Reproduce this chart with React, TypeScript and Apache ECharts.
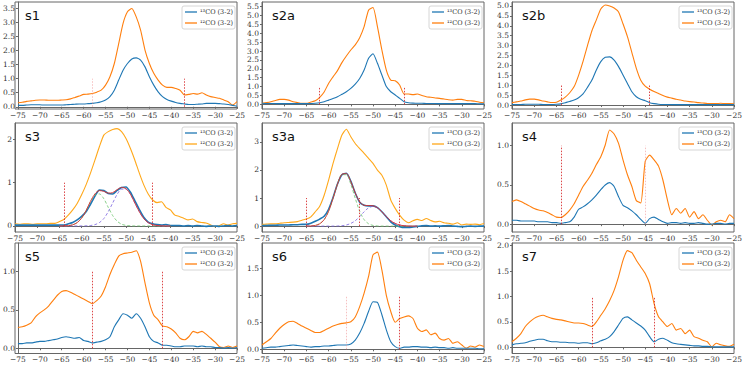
import React, { useEffect, useRef } from "react";
import * as echarts from "echarts";

// Velocity channels (km/s)
const VELOCITY = [-75,-74,-73,-72,-71,-70,-69,-68,-67,-66,-65,-64,-63,-62,-61,-60,-59,-58,-57,-56,-55,-54,-53,-52,-51,-50,-49,-48,-47,-46,-45,-44,-43,-42,-41,-40,-39,-38,-37,-36,-35,-34,-33,-32,-31,-30,-29,-28,-27,-26,-25];
const X_TICKS = [-75,-70,-65,-60,-55,-50,-45,-40,-35,-30,-25];

const S1_13CO = [0.05,0.05,0.06,0.07,0.07,0.07,0.06,0.06,0.06,0.06,0.06,0.07,0.08,0.09,0.1,0.1,0.11,0.12,0.14,0.18,0.24,0.36,0.59,0.95,1.3,1.54,1.7,1.74,1.66,1.42,1.07,0.77,0.53,0.36,0.26,0.2,0.15,0.12,0.1,0.08,0.08,0.09,0.1,0.12,0.12,0.12,0.11,0.1,0.08,0.05,0.02];
const S1_12CO = [0.14,0.16,0.19,0.21,0.23,0.24,0.24,0.23,0.23,0.23,0.24,0.25,0.28,0.33,0.38,0.44,0.45,0.47,0.52,0.59,0.77,1.07,1.54,2.25,2.97,3.38,3.5,3.2,2.73,2.02,1.54,1.19,0.95,0.77,0.69,0.69,0.65,0.59,0.42,0.44,0.47,0.45,0.5,0.42,0.36,0.33,0.3,0.24,0.18,0.06,0.18];

const S2A_13CO = [0.06,0.05,0.05,0.05,0.04,0.04,0.04,0.04,0.04,0.04,0.04,0.05,0.06,0.09,0.15,0.24,0.33,0.43,0.57,0.71,0.9,1.14,1.46,1.93,2.59,2.85,2.31,1.65,1.0,0.71,0.53,0.34,0.15,0.09,0.07,0.06,0.06,0.05,0.05,0.05,0.04,0.05,0.04,0.04,0.04,0.04,0.04,0.04,0.04,0.03,0.03];
const S2A_12CO = [0.06,0.1,0.15,0.22,0.28,0.28,0.24,0.15,0.1,0.06,0.06,0.13,0.2,0.4,0.7,1.18,1.55,1.9,2.35,2.72,3.06,3.35,3.75,4.37,5.3,5.45,4.37,3.06,1.93,1.37,1.33,1.09,0.58,0.58,0.55,0.58,0.5,0.43,0.4,0.36,0.34,0.3,0.26,0.24,0.28,0.28,0.22,0.2,0.18,0.12,0.09];

const S2B_13CO = [0.03,0.03,0.03,0.04,0.04,0.04,0.04,0.03,0.03,0.03,0.04,0.06,0.12,0.18,0.25,0.37,0.56,0.89,1.26,1.77,2.19,2.41,2.43,2.27,1.94,1.52,1.09,0.67,0.42,0.29,0.22,0.12,0.07,0.04,0.03,0.03,0.02,0.02,0.02,0.02,0.02,0.02,0.02,0.02,0.02,0.02,0.02,0.02,0.02,0.02,0.02];
const S2B_12CO = [0.12,0.16,0.2,0.26,0.3,0.3,0.26,0.2,0.16,0.13,0.14,0.25,0.4,0.62,0.93,1.5,2.2,3.0,3.75,4.3,4.85,5.05,5.0,4.9,4.7,4.1,3.45,2.65,1.85,1.25,0.95,0.8,0.68,0.58,0.48,0.4,0.35,0.29,0.25,0.2,0.17,0.15,0.12,0.1,0.08,0.07,0.07,0.09,0.07,0.08,0.06];

const S3_13CO = [0.02,0.02,0.02,0.02,0.02,0.02,0.02,0.02,0.02,0.02,0.02,0.02,0.05,0.08,0.14,0.22,0.33,0.5,0.69,0.83,0.82,0.75,0.74,0.82,0.89,0.9,0.78,0.58,0.38,0.2,0.09,0.05,0.03,0.02,0.03,0.01,0.01,0.01,0.0,0.01,0.0,0.01,0.0,-0.01,0.0,0.0,-0.01,0.0,0.01,0.0,0.01];
const S3_12CO = [0.05,0.04,0.05,0.05,0.04,0.05,0.05,0.05,0.06,0.06,0.1,0.15,0.25,0.37,0.52,0.72,0.95,1.22,1.52,1.83,2.1,2.18,2.23,2.25,2.18,2.02,1.79,1.52,1.22,0.95,0.74,0.6,0.54,0.56,0.43,0.37,0.25,0.22,0.18,0.14,0.16,0.1,0.08,0.07,0.03,-0.02,0.01,0.05,0.02,0.05,0.06];

const S3A_13CO = [0.02,0.02,0.03,0.03,0.04,0.04,0.04,0.05,0.05,0.06,0.06,0.1,0.17,0.25,0.35,0.6,1.02,1.5,1.83,1.88,1.6,1.18,0.85,0.74,0.72,0.72,0.66,0.51,0.33,0.15,0.04,-0.02,-0.05,-0.05,-0.03,-0.01,0.01,0.02,0.0,0.01,0.0,0.01,0.02,0.0,-0.01,-0.02,-0.01,0.0,-0.01,0.0,0.0];
const S3A_12CO = [0.06,0.07,0.08,0.08,0.1,0.12,0.13,0.14,0.16,0.21,0.25,0.33,0.51,0.71,1.1,1.64,2.23,2.76,3.24,3.45,3.18,2.94,2.76,2.59,2.41,2.23,1.99,1.81,1.46,0.93,0.63,0.39,0.21,0.12,0.19,0.24,0.2,0.27,0.2,0.15,0.17,0.12,0.1,0.07,0.12,0.04,0.07,0.06,0.07,0.05,0.09];

const S4_13CO = [0.05,0.05,0.04,0.04,0.04,0.04,0.03,0.03,0.03,0.02,0.02,0.01,0.02,0.03,0.09,0.19,0.22,0.26,0.31,0.37,0.44,0.5,0.53,0.48,0.35,0.24,0.21,0.17,0.12,0.06,0.01,0.07,0.09,0.06,0.03,0.01,0.02,0.02,0.01,0.02,0.01,0.01,0.02,0.01,0.0,0.0,0.01,0.01,0.0,0.01,0.01];
const S4_12CO = [0.29,0.31,0.29,0.26,0.23,0.2,0.18,0.17,0.15,0.12,0.09,0.085,0.12,0.18,0.26,0.37,0.48,0.56,0.65,0.76,0.86,1.01,1.2,1.15,1.03,0.82,0.63,0.48,0.3,0.27,0.8,0.88,0.82,0.74,0.56,0.31,0.12,0.2,0.14,0.2,0.09,0.16,0.07,0.12,0.05,-0.01,0.03,0.05,0.03,0.12,0.07];

const S5_13CO = [0.06,0.06,0.07,0.07,0.08,0.09,0.09,0.1,0.11,0.12,0.14,0.15,0.14,0.13,0.14,0.1,0.09,0.07,0.08,0.09,0.11,0.15,0.28,0.37,0.45,0.43,0.39,0.45,0.39,0.28,0.15,0.09,0.07,0.04,0.04,0.03,0.02,0.02,0.03,0.03,0.03,0.02,0.03,0.02,0.02,0.01,0.01,0.0,0.01,0.0,0.01];
const S5_12CO = [0.27,0.28,0.3,0.33,0.41,0.46,0.5,0.55,0.62,0.69,0.74,0.75,0.73,0.7,0.67,0.64,0.61,0.58,0.62,0.68,0.8,0.96,1.09,1.2,1.23,1.24,1.25,1.27,1.13,0.85,0.59,0.43,0.37,0.29,0.28,0.25,0.2,0.13,0.11,0.15,0.22,0.2,0.22,0.18,0.13,0.08,0.02,0.01,0.03,0.01,0.03];

const S6_13CO = [0.02,0.03,0.04,0.04,0.05,0.06,0.07,0.08,0.07,0.06,0.05,0.04,0.05,0.05,0.06,0.06,0.07,0.08,0.08,0.08,0.1,0.17,0.3,0.48,0.7,0.88,0.87,0.64,0.36,0.14,0.05,0.02,0.04,0.04,0.05,0.05,0.04,0.04,0.03,0.04,0.03,0.03,0.02,0.03,0.02,0.02,0.02,0.02,0.02,0.01,0.01];
const S6_12CO = [0.08,0.14,0.2,0.3,0.39,0.46,0.51,0.52,0.48,0.43,0.39,0.35,0.31,0.31,0.35,0.39,0.43,0.46,0.48,0.49,0.51,0.6,0.79,1.04,1.35,1.75,1.8,1.47,1.0,0.7,0.5,0.57,0.6,0.62,0.57,0.39,0.33,0.36,0.27,0.3,0.2,0.17,0.2,0.11,0.14,0.08,0.02,0.06,0.04,0.08,0.05];

const S7_13CO = [0.05,0.07,0.08,0.09,0.12,0.14,0.16,0.16,0.13,0.11,0.11,0.1,0.1,0.09,0.09,0.08,0.09,0.09,0.07,0.09,0.13,0.16,0.21,0.31,0.44,0.57,0.6,0.54,0.48,0.42,0.34,0.21,0.11,0.16,0.18,0.14,0.09,0.07,0.06,0.05,0.04,0.03,0.03,0.02,0.02,0.01,0.01,0.01,0.01,0.01,0.01];
const S7_12CO = [0.11,0.18,0.27,0.41,0.5,0.57,0.61,0.63,0.6,0.57,0.55,0.54,0.52,0.5,0.48,0.48,0.47,0.44,0.41,0.5,0.63,0.76,0.92,1.12,1.39,1.71,1.9,1.86,1.71,1.58,1.45,1.25,0.86,0.6,0.5,0.41,0.47,0.34,0.37,0.27,0.34,0.21,0.18,0.14,0.11,0.01,0.08,0.05,0.03,0.02,0.06];

const FIT_VELOCITY = [-65,-64,-63,-62,-61,-60,-59,-58,-57,-56,-55,-54,-53,-52,-51,-50,-49,-48,-47,-46,-45,-44,-43,-42,-41,-40];
const S3_FIT_A = [0,0.002,0.007,0.026,0.077,0.18,0.35,0.56,0.71,0.74,0.63,0.43,0.24,0.11,0.04,0.012,0.003,0,0,0,0,0,0,0,0,0];
const S3_FIT_B = [0,0,0,0,0,0,0.003,0.01,0.03,0.077,0.17,0.33,0.53,0.73,0.85,0.85,0.73,0.53,0.33,0.17,0.077,0.03,0.01,0.003,0,0];
const S3_FIT_SUM = [0,0.002,0.007,0.026,0.077,0.18,0.353,0.57,0.74,0.817,0.8,0.76,0.77,0.84,0.89,0.862,0.733,0.53,0.33,0.17,0.077,0.03,0.01,0.003,0,0];
const S3A_FIT_A = [0.001,0.005,0.024,0.083,0.23,0.53,0.99,1.49,1.83,1.83,1.49,0.99,0.53,0.23,0.083,0.024,0.005,0,0,0,0,0,0,0,0,0];
const S3A_FIT_B = [0,0,0,0,0,0,0,0.004,0.014,0.039,0.095,0.19,0.34,0.51,0.65,0.7,0.65,0.51,0.34,0.19,0.095,0.039,0.014,0.004,0,0];
const S3A_FIT_SUM = [0.001,0.005,0.024,0.083,0.23,0.53,0.99,1.494,1.844,1.869,1.585,1.18,0.87,0.74,0.733,0.724,0.655,0.51,0.34,0.19,0.095,0.039,0.014,0.004,0,0];

const PANEL_NAMES = ["s1", "s2a", "s2b", "s3", "s3a", "s4", "s5", "s6", "s7"];
const Y_TICKS = [
  [0, 0.5, 1, 1.5, 2, 2.5, 3, 3.5],
  [0, 0.5, 1, 1.5, 2, 2.5, 3, 3.5, 4, 4.5, 5, 5.5],
  [0, 0.5, 1, 1.5, 2, 2.5, 3, 3.5, 4, 4.5, 5],
  [0, 1, 2],
  [0, 1, 2, 3],
  [0, 0.5, 1],
  [0, 0.5, 1],
  [0, 0.5, 1, 1.5],
  [0, 0.5, 1, 1.5, 2],
];
// velocity cuts: [velocity, faint?]
const CUTS: [number, boolean][][] = [
  [[-58, true], [-37, false]],
  [[-62, false], [-43, false]],
  [[-64, false], [-44, false]],
  [[-64, false], [-44, false]],
  [[-65, false], [-53, false], [-44, false]],
  [[-64, false], [-45, true]],
  [[-58, false], [-42, false]],
  [[-56, true], [-44, false]],
  [[-57, false], [-43, false]],
];
const CO13 = [S1_13CO, S2A_13CO, S2B_13CO, S3_13CO, S3A_13CO, S4_13CO, S5_13CO, S6_13CO, S7_13CO];
const CO12 = [S1_12CO, S2A_12CO, S2B_12CO, S3_12CO, S3A_12CO, S4_12CO, S5_12CO, S6_12CO, S7_12CO];

// layout (pixels) and axis extents
const COL_LEFT = [15, 262, 512];
const ROW_TOP = [2, 123, 243];
const ROW_BOTTOM = [109, 232, 353.5];
const PLOT_W = 222;
const Y_EXTENT = [
  [-0.08, 3.73], [-0.26, 5.76], [-0.2, 5.2],
  [-0.14, 2.38], [-0.21, 3.67], [-0.1, 1.29],
  [-0.068, 1.37], [-0.078, 1.97], [-0.12, 2.05],
];

const BLUE = "#1f77b4";
const ORANGE = "#ff7f0e";
const GOLD = "#ffa81a";

const minus = (v: number) => (v < 0 ? "\u2212" + Math.abs(v) : String(v));

export default function App() {
  const ref = useRef<HTMLDivElement>(null);
  useEffect(() => {
    if (!ref.current) return;
    const chart = echarts.init(ref.current, undefined, { renderer: "svg" });
    const grid: any[] = [];
    const xAxis: any[] = [];
    const yAxis: any[] = [];
    const series: any[] = [];
    const graphic: any[] = [];
    const tickFont = { fontFamily: "DejaVu Serif", fontSize: 7.5, color: "#333" };

    PANEL_NAMES.forEach((name, i) => {
      const col = i % 3;
      const row = Math.floor(i / 3);
      const left = COL_LEFT[col];
      const top = ROW_TOP[row];
      const height = ROW_BOTTOM[row] - top;
      const gold = i === 3 || i === 4;
      grid.push({ left, top, width: PLOT_W, height });
      xAxis.push({
        type: "value", gridIndex: i, min: -75, max: -25, interval: 5,
        axisLine: { show: true, lineStyle: { color: "#666", width: 1 } },
        axisTick: { show: true, length: 2, lineStyle: { color: "#666" } },
        axisLabel: { ...tickFont, margin: 2, formatter: (v: number) => minus(v), customValues: X_TICKS },
        splitLine: { show: false },
      });
      const ticks = Y_TICKS[i];
      const intTicks = i === 3 || i === 4;
      yAxis.push({
        type: "value", gridIndex: i, min: Y_EXTENT[i][0], max: Y_EXTENT[i][1],
        axisLine: { show: true, onZero: false, lineStyle: { color: "#666", width: 1 } },
        axisTick: { show: true, length: 2, customValues: ticks, lineStyle: { color: "#666" } },
        axisLabel: { ...tickFont, margin: 3, customValues: ticks, formatter: (v: number) => (intTicks ? String(Math.round(v)) : v.toFixed(1)) },
        splitLine: { show: false },
      });
      const red = CUTS[i].filter((c) => !c[1]);
      const faint = CUTS[i].filter((c) => c[1]);
      const mk = (cuts: [number, boolean][], color: string) => ({
        silent: true, symbol: ["none", "none"], label: { show: false },
        lineStyle: { color, type: [1.5, 1.5], width: 1 },
        data: cuts.map((c) => [{ coord: [c[0], 0] }, { coord: [c[0], 1] }]),
      });
      series.push({
        type: "line", xAxisIndex: i, yAxisIndex: i, showSymbol: false, smooth: 0.2,
        data: VELOCITY.map((v, k) => [v, CO13[i][k]]),
        lineStyle: { color: BLUE, width: gold ? 1.6 : 1.1 }, itemStyle: { color: BLUE },
        markLine: mk(red, "rgba(214,39,40,0.85)"), z: 3,
      });
      series.push({
        type: "line", xAxisIndex: i, yAxisIndex: i, showSymbol: false, smooth: 0.2,
        data: VELOCITY.map((v, k) => [v, CO12[i][k]]),
        lineStyle: { color: gold ? GOLD : ORANGE, width: 1.1 }, itemStyle: { color: gold ? GOLD : ORANGE },
        markLine: mk(faint, "rgba(240,150,150,0.6)"), z: 2,
      });
      if (gold) {
        const fa = i === 3 ? S3_FIT_A : S3A_FIT_A;
        const fb = i === 3 ? S3_FIT_B : S3A_FIT_B;
        const fs = i === 3 ? S3_FIT_SUM : S3A_FIT_SUM;
        const fit = (arr: number[], color: string, dashed: boolean, w: number) => ({
          type: "line", xAxisIndex: i, yAxisIndex: i, showSymbol: false, smooth: 0.3,
          data: FIT_VELOCITY.map((v, k) => [v, arr[k]]),
          lineStyle: { color, width: w, type: dashed ? [3, 2] : "solid" }, z: 4,
        });
        series.push(fit(fa, "#6cc46c", true, 0.8));
        series.push(fit(fb, "#7a62e0", true, 0.8));
        series.push(fit(fs, "#d9302c", false, 0.9));
      }
      // frame
      graphic.push({
        type: "rect", silent: true, z: 1,
        shape: { x: left, y: top, width: PLOT_W, height },
        style: { fill: "none", stroke: "#666", lineWidth: 1 },
      });
      // panel label
      graphic.push({
        type: "text", silent: true, z: 10,
        x: left + 10, y: top + 13,
        style: { text: name, font: "13px 'DejaVu Sans'", fill: "#111", verticalAlign: "middle" },
      });
      // legend
      const bx = left + PLOT_W - 55;
      const by = top + 4;
      graphic.push({
        type: "rect", silent: true, z: 10,
        shape: { x: bx, y: by, width: 53, height: 23, r: 2 },
        style: { fill: "#fff", stroke: "#ccc", lineWidth: 0.8 },
      });
      const entries: [string, string][] = [
        ["\u00b9\u00b3CO (3-2)", BLUE],
        ["\u00b9\u00b2CO (3-2)", gold ? GOLD : ORANGE],
      ];
      entries.forEach((e, k) => {
        const ly = by + 6 + k * 11;
        graphic.push({
          type: "line", silent: true, z: 11,
          shape: { x1: bx + 3, y1: ly, x2: bx + 15, y2: ly },
          style: { stroke: e[1], lineWidth: 1.3 },
        });
        graphic.push({
          type: "text", silent: true, z: 11, x: bx + 18, y: ly,
          style: { text: e[0], font: "6.5px 'DejaVu Serif'", fill: "#333", verticalAlign: "middle" },
        });
      });
    });

    chart.setOption({
      animation: false,
      backgroundColor: "#fff",
      grid, xAxis, yAxis, series, graphic,
    });
    return () => chart.dispose();
  }, []);
  return <div ref={ref} style={{ width: 747, height: 365, position: "absolute", left: 0, top: 0 }} />;
}
